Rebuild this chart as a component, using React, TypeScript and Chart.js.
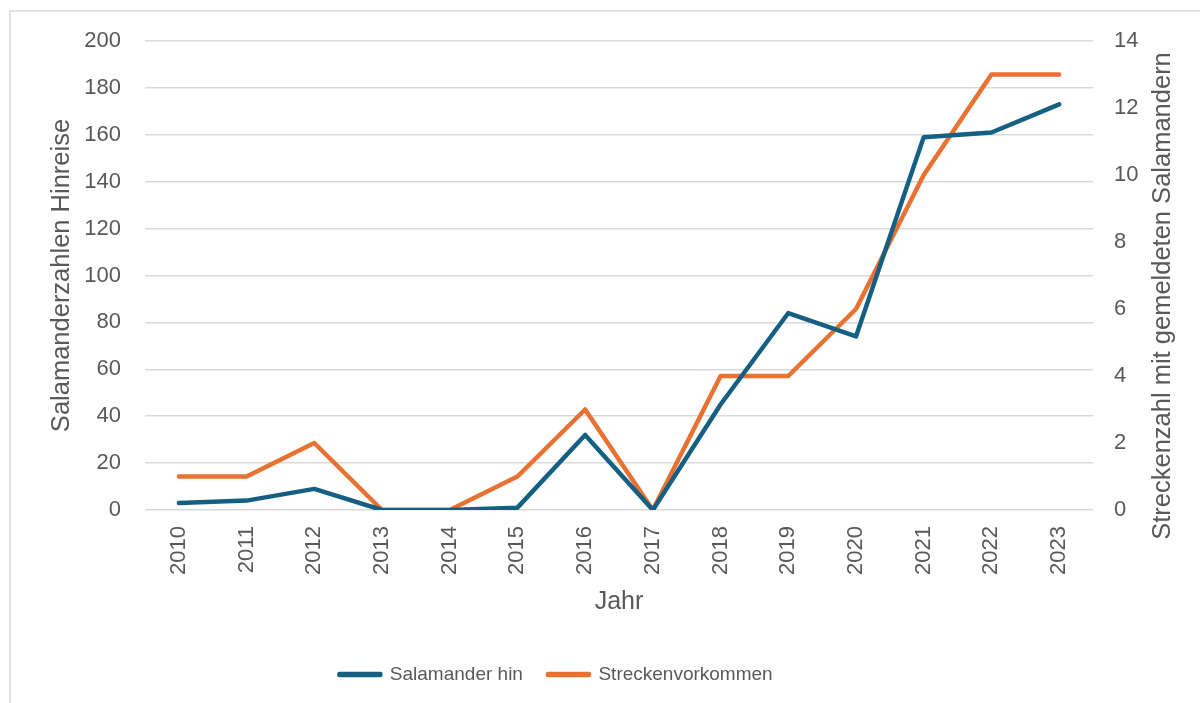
import React, { useEffect, useRef } from "react";
import { Chart, registerables } from "chart.js";

Chart.register(...registerables);

const years = ["2010", "2011", "2012", "2013", "2014", "2015", "2016", "2017", "2018", "2019", "2020", "2021", "2022", "2023"];
const salamanderHin = [3, 4, 9, 0, 0, 1, 32, 0, 45, 84, 74, 159, 161, 173];
const streckenvorkommen = [1, 1, 2, 0, 0, 1, 3, 0, 4, 4, 6, 10, 13, 13];

const leftTitle = "Salamanderzahlen Hinreise";
const rightTitle = "Streckenzahl mit gemeldeten Salamandern";
const xTitle = "Jahr";
const seriesNames = ["Salamander hin", "Streckenvorkommen"];

const BLUE = "#156082";
const ORANGE = "#E97132";
const TEXT = "#595959";
const GRID = "#d9d9d9";
const FONT = "'Liberation Sans', Arial, sans-serif";

const framePlugin = {
  id: "frame",
  beforeDraw(chart: any) {
    const ctx = chart.ctx;
    ctx.save();
    ctx.fillStyle = "#ffffff";
    ctx.fillRect(0, 0, chart.width, chart.height);
    ctx.strokeStyle = GRID;
    ctx.lineWidth = 1.5;
    ctx.beginPath();
    ctx.moveTo(10, chart.height);
    ctx.lineTo(10, 11);
    ctx.lineTo(chart.width, 11);
    ctx.stroke();
    ctx.restore();
  },
};

const rightTitlePlugin = {
  id: "rightTitle",
  afterDraw(chart: any) {
    const ctx = chart.ctx;
    const s = chart.scales.y1;
    ctx.save();
    ctx.fillStyle = TEXT;
    ctx.font = `25.5px ${FONT}`;
    ctx.textAlign = "center";
    ctx.textBaseline = "middle";
    ctx.translate(s.right - 37, 296);
    ctx.rotate(-Math.PI / 2);
    ctx.fillText(rightTitle, 0, 0);
    ctx.restore();
  },
};

const legendShiftPlugin = {
  id: "legendShift",
  afterLayout(chart: any) {
    const l = chart.legend;
    if (l) {
      l.left -= 44;
      l.right -= 44;
    }
  },
};

export default function App() {
  const ref = useRef<HTMLCanvasElement>(null);
  useEffect(() => {
    if (!ref.current) return;
    const chart = new Chart(ref.current, {
      type: "line",
      data: {
        labels: years,
        datasets: [
          {
            label: seriesNames[0],
            data: salamanderHin,
            borderColor: BLUE,
            backgroundColor: BLUE,
            borderWidth: 4.5,
            pointRadius: 0,
            borderCapStyle: "round",
            borderJoinStyle: "round",
            yAxisID: "y",
          },
          {
            label: seriesNames[1],
            data: streckenvorkommen,
            borderColor: ORANGE,
            backgroundColor: ORANGE,
            borderWidth: 4.5,
            pointRadius: 0,
            borderCapStyle: "round",
            borderJoinStyle: "round",
            yAxisID: "y1",
          },
        ],
      },
      options: {
        animation: false,
        responsive: true,
        maintainAspectRatio: false,
        layout: { padding: { top: 41, left: 0, right: 0, bottom: 9 } },
        plugins: {
          legend: {
            position: "bottom",
            labels: {
              boxWidth: 41,
              boxHeight: 1,
              padding: 25,
              color: TEXT,
              font: { family: FONT, size: 19 },
            },
          },
          tooltip: { enabled: false },
        },
        scales: {
          x: {
            offset: true,
            grid: { display: false, drawTicks: false },
            border: { display: false },
            ticks: {
              color: TEXT,
              font: { family: FONT, size: 22 },
              minRotation: 90,
              maxRotation: 90,
              padding: 16,
            },
            title: {
              display: true,
              text: xTitle,
              color: TEXT,
              font: { family: FONT, size: 25 },
              padding: { top: 0, bottom: 23 },
            },
            afterFit(scale: any) {
              scale.height = 130;
            },
          },
          y: {
            position: "left",
            min: 0,
            max: 200,
            ticks: {
              stepSize: 20,
              color: TEXT,
              font: { family: FONT, size: 22 },
              padding: 24,
            },
            grid: { color: GRID, lineWidth: 1.5, drawTicks: false },
            border: { display: false },
            title: {
              display: true,
              text: leftTitle,
              color: TEXT,
              font: { family: FONT, size: 25.5 },
              padding: { top: 47, bottom: 0 },
            },
            afterFit(scale: any) {
              scale.width = 145;
            },
          },
          y1: {
            position: "right",
            min: 0,
            max: 14,
            ticks: {
              stepSize: 2,
              color: TEXT,
              font: { family: FONT, size: 22 },
              padding: 21,
            },
            grid: { display: false, drawTicks: false },
            border: { display: false },
            afterFit(scale: any) {
              scale.width = 107;
            },
          },
        },
      },
      plugins: [framePlugin, rightTitlePlugin, legendShiftPlugin],
    } as any);
    return () => chart.destroy();
  }, []);
  return (
    <div style={{ position: "absolute", left: 0, top: 0, width: 1200, height: 703 }}>
      <canvas ref={ref} />
    </div>
  );
}
